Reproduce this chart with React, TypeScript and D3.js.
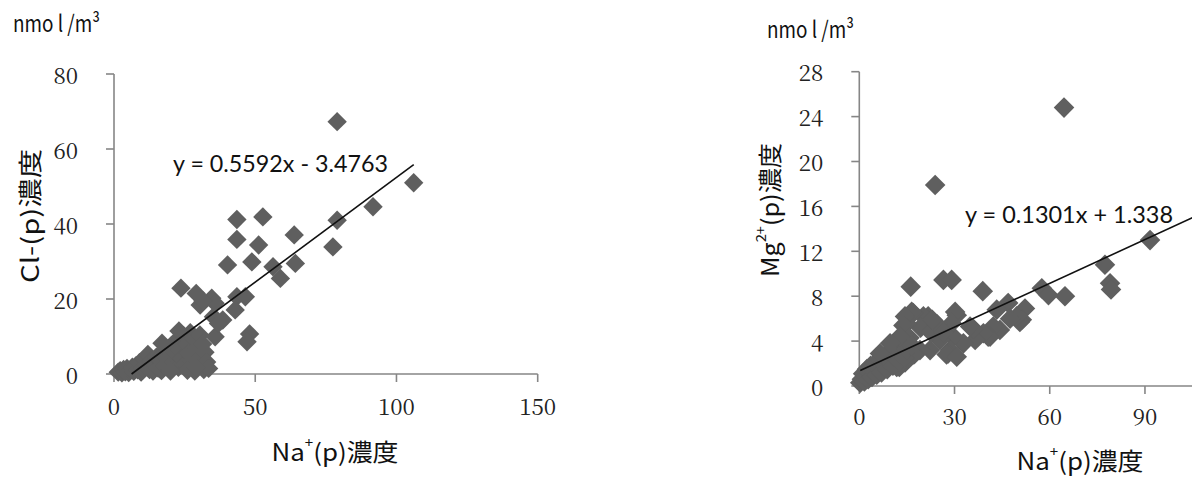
import React from 'react';
import * as d3 from 'd3';

// Cl-(p) vs Na+(p), nmol/m3
const clNaPoints: [number, number][] = [
  [79.0, 67.3], [106.1, 51.0], [91.7, 44.6], [79.0, 41.0], [77.5, 33.9],
  [63.8, 37.1], [64.2, 29.5], [43.5, 41.2], [43.5, 35.9], [52.7, 41.9],
  [51.2, 34.4], [48.8, 29.9], [40.2, 29.1], [56.3, 28.6], [58.9, 25.5],
  [23.7, 22.9], [29.1, 21.5], [30.5, 18.4], [34.6, 20.2], [35.8, 18.9],
  [43.5, 20.6], [46.5, 20.6], [42.9, 17.1], [38.5, 14.4], [35.8, 9.95],
  [48.0, 10.7], [47.1, 8.6], [31.5, 19.5], [35.2, 15.3], [37.0, 13.5],
  [1.5, 0.5], [2.2, 0.9], [2.8, 0.3], [3.4, 1.2], [4.0, 0.6], [4.6, 1.5],
  [5.2, 0.4], [5.8, 1.0], [6.5, 1.8], [7.0, 0.7], [7.8, 2.2], [8.4, 1.1],
  [9.0, 3.0], [9.6, 0.5], [10.2, 1.6], [10.8, 4.0], [11.5, 2.5], [12.0, 5.2],
  [12.6, 1.2], [13.2, 3.4], [13.8, 0.8], [14.4, 2.8], [15.0, 4.5], [15.6, 1.6],
  [16.2, 3.8], [16.8, 0.9], [17.4, 5.4], [18.0, 2.2], [18.6, 6.8], [19.2, 4.0],
  [19.8, 1.3], [20.4, 7.6], [21.0, 3.2], [21.6, 5.8], [22.2, 9.0], [22.8, 1.8],
  [23.4, 6.4], [24.0, 4.2], [24.6, 10.2], [25.2, 2.6], [25.8, 8.0], [26.4, 5.5],
  [27.0, 11.0], [27.6, 3.4], [28.2, 9.4], [28.6, 0.8], [29.2, 6.8], [29.8, 2.0],
  [30.4, 10.4], [30.8, 4.6], [31.4, 8.0], [31.8, 1.2], [32.2, 5.8], [32.8, 3.2],
  [33.5, 1.5], [26.0, 1.0], [29.0, 1.8], [20.0, 0.8], [17.0, 8.2], [23.0, 11.5],
];

// Mg2+(p) vs Na+(p), nmol/m3
const mgNaPoints: [number, number][] = [
  [64.5, 24.8], [23.9, 17.9], [16.2, 8.85], [26.5, 9.45], [29.1, 9.45],
  [38.9, 8.45], [91.6, 13.0], [77.4, 10.8], [79.0, 9.15], [79.3, 8.6],
  [64.8, 8.0], [57.5, 8.7], [59.6, 8.1],
  [52.2, 6.9], [51.2, 5.9], [50.6, 5.7], [49.6, 6.2], [46.9, 7.4], [47.5, 6.0],
  [43.3, 6.8], [44.3, 5.0], [42.2, 5.3], [41.2, 4.4], [40.6, 4.4], [39.1, 4.7],
  [36.5, 4.1], [35.9, 5.1], [34.9, 5.3], [32.8, 3.8], [30.7, 6.3], [30.2, 6.6],
  [29.6, 4.4], [29.1, 5.6], [28.6, 3.2], [28.0, 2.9], [27.5, 2.8], [25.4, 4.1],
  [30.7, 2.6], [22.3, 3.2], [21.7, 6.2], [20.2, 6.2], [19.3, 5.2], [17.0, 6.5],
  [16.5, 6.6], [14.9, 5.6], [14.4, 6.2], [13.9, 5.4], [19.1, 3.2], [17.5, 2.9],
  [17.2, 2.8], [14.4, 2.1], [12.6, 1.7], [11.8, 1.7], [22.5, 4.8], [24.5, 5.5],
  [23.0, 5.9], [26.5, 4.8],
  [0.3, 0.3], [0.8, 0.6], [1.2, 1.1], [1.6, 0.4], [2.0, 0.9], [2.4, 1.5],
  [2.8, 0.6], [3.2, 1.2], [3.6, 1.8], [4.0, 0.8], [4.5, 1.4], [5.0, 2.0],
  [5.5, 1.0], [6.0, 1.6], [6.5, 2.4], [7.0, 1.2], [7.6, 2.0], [8.2, 2.7],
  [8.8, 1.5], [9.4, 2.3], [10.0, 3.1], [10.6, 1.8], [11.2, 2.6], [11.8, 3.5],
  [12.4, 2.2], [13.0, 3.0], [13.6, 3.9], [14.2, 2.5], [15.0, 3.3], [15.8, 4.3],
  [16.5, 3.6], [12.8, 4.4], [9.7, 3.8], [6.5, 2.9],
];

const leftXTicks = [0, 50, 100, 150];
const leftYTicks = [0, 20, 40, 60, 80];
const rightXTicks = [0, 30, 60, 90];
const rightYTicks = [0, 4, 8, 12, 16, 20, 24, 28];

const leftFit = { slope: 0.5592, intercept: -3.4763 };
const rightFit = { slope: 0.1301, intercept: 1.338 };

const MARKER = '#5f5f5f';
const AXIS = '#868686';
const SERIF = "'Noto Serif CJK JP', 'Liberation Serif', serif";
const GOTHIC = "'Noto Sans CJK JP', 'Noto Sans', sans-serif";
const EQ_FONT = "Lato, 'Open Sans', sans-serif";

type PanelProps = {
  points: [number, number][];
  xDomain: [number, number];
  yDomain: [number, number];
  xRange: [number, number];
  yRange: [number, number];
  xTicks: number[];
  yTicks: number[];
  fit: { slope: number; intercept: number };
  fitToAxisEnd: boolean;
  markerHalf: number;
  equation: string;
  eqX: number;
  eqY: number;
  eqWidth: number;
  xTickLabelOffset: number;
  unitX: number;
  unitY: number;
  yLabel: React.ReactNode;
  yLabelX: number;
  yLabelY: number;
  yLabelWidth: number;
  xLabelX: number;
  xLabelY: number;
};

function Panel(p: PanelProps) {
  const x = d3.scaleLinear().domain(p.xDomain).range(p.xRange);
  const y = d3.scaleLinear().domain(p.yDomain).range(p.yRange);
  const x0 = x(p.xDomain[0]);
  const y0 = y(p.yDomain[0]);
  const yTop = y(p.yDomain[1]);
  const xEnd = x(p.xDomain[1]);

  const xs = p.points.map((d) => d[0]);
  const fx = (v: number) => p.fit.slope * v + p.fit.intercept;
  const zeroCross = -p.fit.intercept / p.fit.slope;
  const start = Math.max(d3.min(xs) as number, zeroCross);
  const end = p.fitToAxisEnd ? p.xDomain[1] : (d3.max(xs) as number);
  const fitLine = d3.line<number>().x((v) => x(v)).y((v) => y(fx(v)))([start, end]);

  const s = p.markerHalf;
  const diamond = `M0,${-s}L${s},0L0,${s}L${-s},0Z`;

  const tickStyle = { fontFamily: SERIF, fontSize: 23 };
  const gothic = { fontFamily: GOTHIC };

  return (
    <g>
      {/* y axis */}
      <line x1={x0} x2={x0} y1={yTop} y2={y0} stroke={AXIS} strokeWidth={1.6} />
      {p.yTicks.map((t) => (
        <g key={'y' + t}>
          <line x1={x0 - 8} x2={x0} y1={y(t)} y2={y(t)} stroke={AXIS} strokeWidth={1.6} />
          <text x={x0 - 36} y={y(t)} textAnchor="end" dominantBaseline="central"
            style={tickStyle} fill="#222" textLength={String(t).length * 12.3}
            lengthAdjust="spacingAndGlyphs">{t}</text>
        </g>
      ))}
      {/* x axis */}
      <line x1={x0} x2={xEnd} y1={y0} y2={y0} stroke={AXIS} strokeWidth={1.6} />
      {p.xTicks.map((t) => (
        <g key={'x' + t}>
          <line x1={x(t)} x2={x(t)} y1={y0} y2={y0 + 8} stroke={AXIS} strokeWidth={1.6} />
          <text x={x(t)} y={y0 + p.xTickLabelOffset} textAnchor="middle" dominantBaseline="central"
            style={tickStyle} fill="#222" textLength={String(t).length * 12.3}
            lengthAdjust="spacingAndGlyphs">{t}</text>
        </g>
      ))}
      {/* observations */}
      {p.points.map((d, i) => (
        <path key={i} d={diamond} transform={`translate(${x(d[0])},${y(d[1])})`} fill={MARKER} />
      ))}
      {/* linear fit */}
      <path d={fitLine || ''} stroke="#111" strokeWidth={1.6} fill="none" />
      <text x={p.eqX} y={p.eqY} style={{ fontFamily: EQ_FONT, fontSize: 23 }} fill="#111"
        textLength={p.eqWidth} lengthAdjust="spacingAndGlyphs">{p.equation}</text>
      {/* unit */}
      <text x={p.unitX} y={p.unitY} style={{ ...gothic, fontSize: 23 }} fill="#111"
        textLength={87} lengthAdjust="spacingAndGlyphs">nmo l /m³</text>
      {/* axis titles */}
      <text transform={`translate(${p.yLabelX},${p.yLabelY}) rotate(-90)`} textAnchor="middle"
        dominantBaseline="central" style={{ ...gothic, fontSize: 24 }} fill="#111"
        textLength={p.yLabelWidth} lengthAdjust="spacingAndGlyphs">
        {p.yLabel}
      </text>
      <text x={p.xLabelX} y={p.xLabelY} textAnchor="middle" dominantBaseline="central"
        style={{ ...gothic, fontSize: 24 }} fill="#111" textLength={127} lengthAdjust="spacingAndGlyphs">
        Na<tspan fontSize={14} dy={-8}>+</tspan><tspan dy={8}>(p)濃度</tspan>
      </text>
    </g>
  );
}

export default function App() {
  return (
    <svg width={1192} height={477} style={{ position: 'absolute', left: 0, top: 0, background: '#fff' }}>
      <rect x={0} y={0} width={1192} height={477} fill="#fff" />
      <Panel
        points={clNaPoints}
        xDomain={[0, 150]} yDomain={[0, 80]}
        xRange={[114, 537.7]} yRange={[374, 74]}
        xTicks={leftXTicks} yTicks={leftYTicks}
        fit={leftFit} fitToAxisEnd={false}
        markerHalf={9.7}
        equation="y = 0.5592x - 3.4763" eqX={173} eqY={172} eqWidth={215}
        xTickLabelOffset={31}
        unitX={13} unitY={32}
        yLabel={<>Cl-(p)濃度</>} yLabelX={28} yLabelY={216} yLabelWidth={134}
        xLabelX={335} xLabelY={450}
      />
      <Panel
        points={mgNaPoints}
        xDomain={[0, 120]} yDomain={[0, 28]}
        xRange={[859.3, 859.3 + 120 * 3.174]} yRange={[386, 71.7]}
        xTicks={rightXTicks} yTicks={rightYTicks}
        fit={rightFit} fitToAxisEnd={true}
        markerHalf={10.3}
        equation="y = 0.1301x + 1.338" eqX={965} eqY={223} eqWidth={208}
        xTickLabelOffset={29}
        unitX={767} unitY={38}
        yLabel={<>Mg<tspan fontSize={14} dy={-8}>2+</tspan><tspan dy={8}>(p)濃度</tspan></>}
        yLabelX={768} yLabelY={210} yLabelWidth={134}
        xLabelX={1080} xLabelY={459}
      />
    </svg>
  );
}
